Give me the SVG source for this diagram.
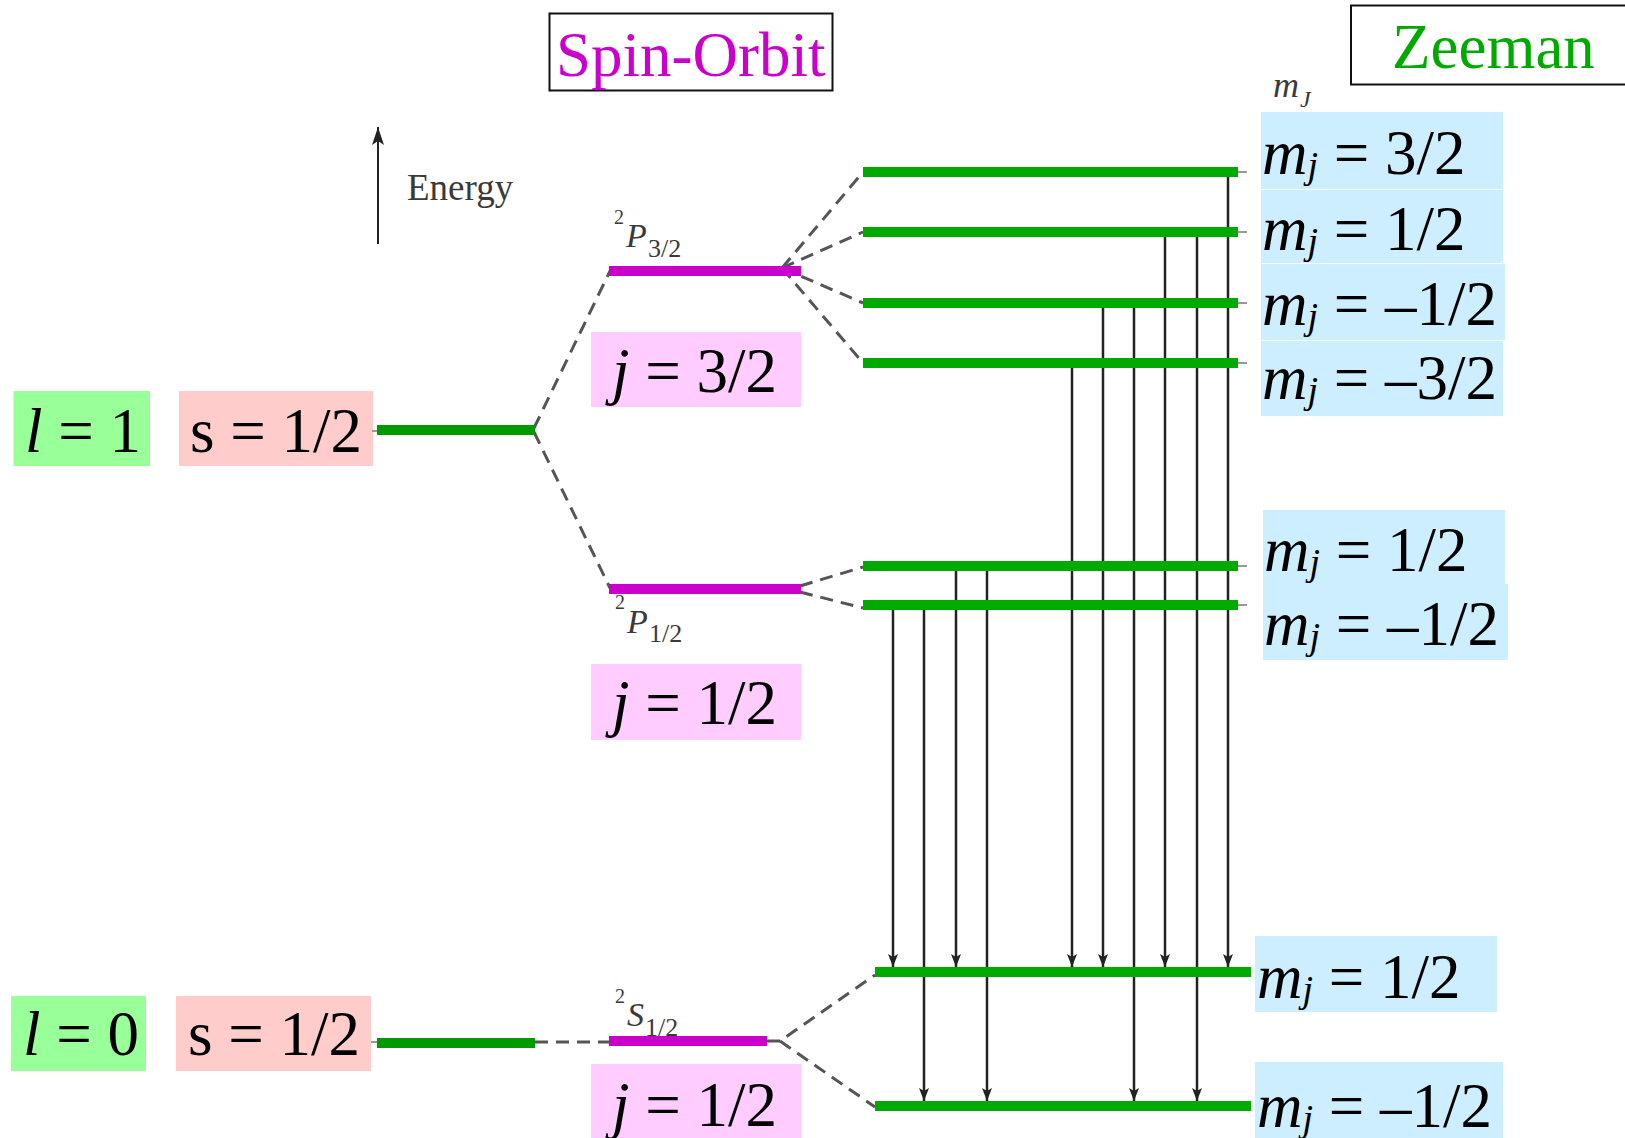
<svg xmlns="http://www.w3.org/2000/svg" width="1625" height="1138" viewBox="0 0 1625 1138">
<defs>
<style>
.big{font-family:"Liberation Serif","Times New Roman",serif;font-size:63px;fill:#000}
.it{font-style:italic}
.title{font-family:"Liberation Serif","Times New Roman",serif;font-size:63px}
.lbl{font-family:"Liberation Serif","Times New Roman",serif;fill:#3a3a3a}
.tbox{fill:#fff;stroke:#111;stroke-width:2}
.dash{stroke:#555;stroke-width:3;stroke-dasharray:13 8;fill:none}
.tr{stroke:#222;stroke-width:2.5;fill:none;marker-end:url(#ah)}
.lvlG{stroke:#009900;stroke-width:10}
.lvlZ{stroke:#00AA00;stroke-width:10}
.lvlM{stroke:#CC00CC;stroke-width:10}
.boxL{fill:#99FF99}
.boxS{fill:#FFCCCC}
.boxJ{fill:#FFCCFF}
.boxM{fill:#CCEEFF}
.stub{stroke:#999;stroke-width:2}
</style>
<marker id="ah" viewBox="0 0 13 10" refX="13" refY="5" markerWidth="13" markerHeight="10" markerUnits="userSpaceOnUse" orient="auto">
<path d="M0,0 L13,5 L0,10 L3,5 z" fill="#222"/>
</marker>
<marker id="ah2" viewBox="0 0 18 12" refX="18" refY="6" markerWidth="18" markerHeight="12" markerUnits="userSpaceOnUse" orient="auto">
<path d="M0,0 L18,6 L0,12 L4,6 z" fill="#222"/>
</marker>
</defs>
<rect width="1625" height="1138" fill="#fff"/>

<g id="title-spin-orbit">
<rect class="tbox" x="549.5" y="13.5" width="283" height="77"/>
<text class="title" x="556" y="76" fill="#CC00CC">Spin-Orbit</text>
</g>
<g id="title-zeeman">
<rect class="tbox" x="1351" y="5.5" width="290" height="79"/>
<text class="title" x="1392" y="68" fill="#00AA00">Zeeman</text>
</g>

<g id="energy-axis">
<line x1="378" y1="244" x2="378" y2="127" stroke="#222" stroke-width="2" marker-end="url(#ah2)"/>
<text class="lbl" x="407" y="200" font-size="37" fill="#333">Energy</text>
</g>

<g id="label-l1">
<rect class="boxL" x="13.5" y="391" width="136.5" height="75"/>
<text class="big" x="25" y="452" font-size="62"><tspan class="it">l</tspan> = 1</text>
</g>
<g id="label-s1">
<rect class="boxS" x="179" y="391" width="194" height="75"/>
<text class="big" x="190" y="452">s = 1/2</text>
</g>
<g id="label-l0">
<rect class="boxL" x="11" y="996" width="135" height="75"/>
<text class="big" x="23" y="1055" font-size="62"><tspan class="it">l</tspan> = 0</text>
</g>
<g id="label-s0">
<rect class="boxS" x="176" y="996" width="195" height="75"/>
<text class="big" x="188" y="1055">s = 1/2</text>
</g>

<g id="label-j32">
<rect class="boxJ" x="591" y="332" width="210" height="75"/>
<text class="big" x="612" y="392" font-size="64"><tspan class="it">j</tspan> = 3/2</text>
</g>
<g id="label-j12-p">
<rect class="boxJ" x="591" y="664" width="210" height="76"/>
<text class="big" x="612" y="724" font-size="64"><tspan class="it">j</tspan> = 1/2</text>
</g>
<g id="label-j12-s">
<rect class="boxJ" x="591" y="1064" width="210" height="74"/>
<text class="big" x="612" y="1126" font-size="64"><tspan class="it">j</tspan> = 1/2</text>
</g>

<g id="term-2P32">
<text class="lbl"><tspan x="614" y="224" font-size="20">2</tspan><tspan x="626" y="247" font-size="34" class="it">P</tspan><tspan x="648" y="257" font-size="26">3/2</tspan></text>
</g>
<g id="term-2P12">
<text class="lbl"><tspan x="615" y="609" font-size="20">2</tspan><tspan x="627" y="633" font-size="34" class="it">P</tspan><tspan x="649" y="642" font-size="26">1/2</tspan></text>
</g>
<g id="term-2S12">
<text class="lbl"><tspan x="615" y="1003" font-size="20">2</tspan><tspan x="627" y="1026" font-size="34" class="it">S</tspan><tspan x="645" y="1036" font-size="26">1/2</tspan></text>
</g>
<g id="label-mJ">
<text class="lbl"><tspan x="1273" y="97" font-size="36" class="it">m</tspan><tspan x="1300" y="107" font-size="24" class="it">J</tspan></text>
</g>

<g id="mj-p32-p32">
<rect class="boxM" x="1261" y="112" width="242" height="77"/>
<text class="big" x="1262" y="174" font-size="62"><tspan class="it">m</tspan><tspan class="it" font-size="38" dy="4">j</tspan><tspan dy="-4"> = 3/2</tspan></text>
</g>
<g id="mj-p32-p12">
<rect class="boxM" x="1261" y="190" width="242" height="73"/>
<text class="big" x="1262" y="250" font-size="62"><tspan class="it">m</tspan><tspan class="it" font-size="38" dy="4">j</tspan><tspan dy="-4"> = 1/2</tspan></text>
</g>
<g id="mj-p32-m12">
<rect class="boxM" x="1261" y="264" width="244" height="76"/>
<text class="big" x="1262" y="325" font-size="62"><tspan class="it">m</tspan><tspan class="it" font-size="38" dy="4">j</tspan><tspan dy="-4"> = &#8211;1/2</tspan></text>
</g>
<g id="mj-p32-m32">
<rect class="boxM" x="1261" y="341" width="242" height="75"/>
<text class="big" x="1262" y="399" font-size="62"><tspan class="it">m</tspan><tspan class="it" font-size="38" dy="4">j</tspan><tspan dy="-4"> = &#8211;3/2</tspan></text>
</g>
<g id="mj-p12-p12">
<rect class="boxM" x="1263" y="510" width="242" height="74"/>
<text class="big" x="1264" y="571" font-size="62"><tspan class="it">m</tspan><tspan class="it" font-size="38" dy="4">j</tspan><tspan dy="-4"> = 1/2</tspan></text>
</g>
<g id="mj-p12-m12">
<rect class="boxM" x="1263" y="584" width="245" height="76"/>
<text class="big" x="1264" y="645" font-size="62"><tspan class="it">m</tspan><tspan class="it" font-size="38" dy="4">j</tspan><tspan dy="-4"> = &#8211;1/2</tspan></text>
</g>
<g id="mj-s12-p12">
<rect class="boxM" x="1255" y="936" width="242" height="76"/>
<text class="big" x="1257" y="998" font-size="62"><tspan class="it">m</tspan><tspan class="it" font-size="38" dy="4">j</tspan><tspan dy="-4"> = 1/2</tspan></text>
</g>
<g id="mj-s12-m12">
<rect class="boxM" x="1255" y="1062" width="248" height="76"/>
<text class="big" x="1257" y="1127" font-size="62"><tspan class="it">m</tspan><tspan class="it" font-size="38" dy="4">j</tspan><tspan dy="-4"> = &#8211;1/2</tspan></text>
</g>

<g id="connectors">
<path class="dash" d="M534,428 L610,271"/>
<path class="dash" d="M534,432 L610,588"/>
<path class="dash" d="M782,268 L863,172"/>
<path class="dash" d="M782,268 L863,232"/>
<path class="dash" d="M782,268 L863,303"/>
<path class="dash" d="M782,268 L863,363"/>
<path class="dash" d="M800,586 L863,567"/>
<path class="dash" d="M800,592 L863,608"/>
<path class="dash" d="M535,1042 L609,1042"/>
<path class="dash" d="M767,1041 L780,1041 L875,975"/>
<path class="dash" d="M780,1041 L875,1107"/>
<line class="stub" x1="1238" y1="172" x2="1247" y2="172"/>
<line class="stub" x1="1238" y1="232" x2="1247" y2="232"/>
<line class="stub" x1="1238" y1="303" x2="1247" y2="303"/>
<line class="stub" x1="1238" y1="363" x2="1247" y2="363"/>
<line class="stub" x1="1238" y1="566" x2="1247" y2="566"/>
<line class="stub" x1="1238" y1="605" x2="1247" y2="605"/>
<line class="stub" x1="372" y1="431" x2="377" y2="431"/>
<line class="stub" x1="371" y1="1042" x2="377" y2="1042"/>
<line class="tr" x1="893" y1="605" x2="893" y2="967"/>
<line class="tr" x1="924" y1="605" x2="924" y2="1101"/>
<line class="tr" x1="956" y1="566" x2="956" y2="967"/>
<line class="tr" x1="987" y1="566" x2="987" y2="1101"/>
<line class="tr" x1="1072" y1="363" x2="1072" y2="967"/>
<line class="tr" x1="1103" y1="303" x2="1103" y2="967"/>
<line class="tr" x1="1134" y1="303" x2="1134" y2="1101"/>
<line class="tr" x1="1165" y1="232" x2="1165" y2="967"/>
<line class="tr" x1="1197" y1="232" x2="1197" y2="1101"/>
<line class="tr" x1="1228" y1="172" x2="1228" y2="967"/>
</g>

<g id="level-l1"><line class="lvlG" x1="377" y1="430" x2="535" y2="430"/></g>
<g id="level-l0"><line class="lvlG" x1="377" y1="1043" x2="535" y2="1043"/></g>
<g id="level-2P32"><line class="lvlM" x1="609" y1="271" x2="801" y2="271"/></g>
<g id="level-2P12"><line class="lvlM" x1="609" y1="589" x2="801" y2="589"/></g>
<g id="level-2S12"><line class="lvlM" x1="609" y1="1041" x2="767" y2="1041"/></g>
<g id="level-z-p32-p32"><line class="lvlZ" x1="863" y1="172" x2="1238" y2="172"/></g>
<g id="level-z-p32-p12"><line class="lvlZ" x1="863" y1="232" x2="1238" y2="232"/></g>
<g id="level-z-p32-m12"><line class="lvlZ" x1="863" y1="303" x2="1238" y2="303"/></g>
<g id="level-z-p32-m32"><line class="lvlZ" x1="863" y1="363" x2="1238" y2="363"/></g>
<g id="level-z-p12-p12"><line class="lvlZ" x1="863" y1="566" x2="1238" y2="566"/></g>
<g id="level-z-p12-m12"><line class="lvlZ" x1="863" y1="605" x2="1238" y2="605"/></g>
<g id="level-z-s12-p12"><line class="lvlZ" x1="875" y1="972" x2="1251" y2="972"/></g>
<g id="level-z-s12-m12"><line class="lvlZ" x1="875" y1="1106" x2="1251" y2="1106"/></g>
</svg>
